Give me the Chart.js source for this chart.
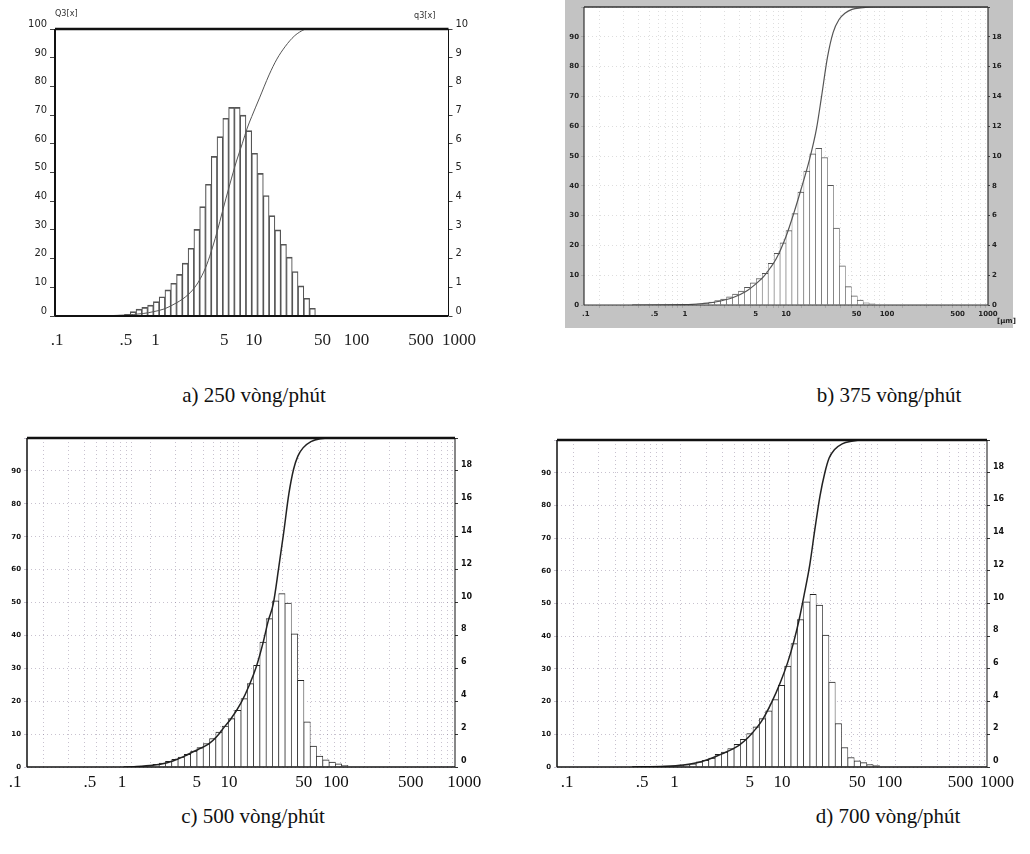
<!DOCTYPE html>
<html>
<head>
<meta charset="utf-8">
<script src="https://cdn.jsdelivr.net/npm/chart.js@4.4.1/dist/chart.umd.min.js"></script>
<style>
  html, body { margin: 0; padding: 0; background: #fff; }
  body { width: 1030px; height: 854px; position: relative; overflow: hidden; }
  canvas { position: absolute; }
  .cap { position: absolute; font-family: 'Liberation Serif', 'Times New Roman', serif; font-size: 21px; color: #111; white-space: nowrap; transform: translateX(-50%); line-height: 24px; }
  .sm { position: absolute; font-family: 'Liberation Sans Narrow', 'DejaVu Sans Condensed', sans-serif; font-size: 9px; color: #333; white-space: nowrap; }
  .um { position: absolute; font-family: 'DejaVu Sans', sans-serif; font-weight: bold; font-size: 7px; color: #222; white-space: nowrap; }
</style>
</head>
<body>
<canvas id="ca" width="480" height="345" style="left:0px;top:0px"></canvas>
<canvas id="cb" width="448" height="328" style="left:565px;top:0px"></canvas>
<canvas id="cc" width="500" height="364" style="left:0px;top:428px"></canvas>
<canvas id="cd" width="495" height="364" style="left:530px;top:428px"></canvas>

<div class="sm" style="left:55px;top:8px">Q3[x]</div>
<div class="sm" style="left:414px;top:10px">q3[x]</div>
<div class="um" style="left:997px;top:317px">[µm]</div>

<div class="cap" style="left:254px;top:383px">a) 250 vòng/phút</div>
<div class="cap" style="left:889px;top:383px">b) 375 vòng/phút</div>
<div class="cap" style="left:253px;top:804px">c) 500 vòng/phút</div>
<div class="cap" style="left:888px;top:804px">d) 700 vòng/phút</div>

<script>
// ---------- DATA ----------
// Particle-size classes (bin centres, µm), 17 classes per decade
const binCenters = [0.4748, 0.5437, 0.6226, 0.7129, 0.8163, 0.9346, 1.0701, 1.2253, 1.4030, 1.6065,
  1.8395, 2.1063, 2.4118, 2.7616, 3.1623, 3.6209, 4.1461, 4.7474, 5.4360, 6.2244,
  7.1272, 8.1609, 9.3446, 10.701, 12.253, 14.030, 16.065, 18.395, 21.063, 24.118,
  27.616, 31.623, 36.209, 41.461, 47.474, 54.360, 62.244, 71.272, 81.609, 93.446];

// Density distribution q3 (% per class) for each speed
const q3_250 = [0.03, 0.06, 0.15, 0.24, 0.30, 0.38, 0.50, 0.67, 0.91, 1.14,
  1.45, 1.84, 2.36, 3.02, 3.81, 4.59, 5.56, 6.25, 6.89, 7.27,
  7.27, 7.00, 6.46, 5.67, 4.97, 4.20, 3.50, 3.00, 2.50, 2.05,
  1.55, 1.05, 0.62, 0.27, 0, 0, 0, 0, 0, 0];
const q3_375 = [0, 0, 0, 0, 0, 0.02, 0.03, 0.05, 0.08, 0.13,
  0.20, 0.29, 0.40, 0.55, 0.74, 0.94, 1.18, 1.49, 1.78, 2.12,
  2.79, 3.46, 4.17, 5.00, 6.13, 7.58, 8.98, 10.15, 10.52, 9.90,
  8.03, 5.17, 2.63, 1.23, 0.62, 0.33, 0.15, 0.08, 0.03, 0];
const q3_500 = [0, 0, 0, 0, 0, 0.02, 0.04, 0.06, 0.10, 0.16,
  0.24, 0.35, 0.47, 0.61, 0.77, 0.97, 1.18, 1.42, 1.73, 2.13,
  2.49, 2.94, 3.45, 4.16, 5.07, 6.18, 7.60, 9.02, 10.10, 10.54,
  9.97, 8.10, 5.27, 2.74, 1.27, 0.66, 0.43, 0.30, 0.20, 0.10];
const q3_700 = [0, 0, 0, 0, 0, 0.02, 0.03, 0.05, 0.08, 0.13,
  0.20, 0.31, 0.41, 0.55, 0.78, 0.92, 1.13, 1.39, 1.70, 2.04,
  2.45, 2.96, 3.43, 4.13, 5.00, 6.17, 7.55, 9.02, 10.10, 10.56,
  9.90, 8.07, 5.20, 2.66, 1.19, 0.58, 0.37, 0.27, 0.15, 0.08];

// Cumulative distribution Q3 (%)
const Q3size_250 = [0.25, 0.5, 0.8, 1.0, 1.3, 1.7, 2.0, 2.5, 3.0, 3.5, 4.0, 4.5, 5.0, 6.0, 7.0, 8.0, 9.0, 10, 12, 15, 18, 22, 27, 32, 36, 1000];
const Q3_250     = [0, 0.3, 0.9, 1.5, 2.5, 4.5, 6, 9, 13, 18, 24, 30, 36, 46, 54, 60, 65.5, 69.5, 76, 84, 89.5, 94, 97.5, 99.3, 100, 100];
const Q3size_375 = [0.3, 1.0, 1.5, 2.0, 3.0, 4.0, 5.0, 6.0, 7.0, 8.0, 10, 12, 14, 17, 20, 22.5, 25.7, 29.3, 33.5, 38.3, 45, 55, 75, 1000];
const Q3_375     = [0, 0.1, 0.5, 1.0, 2.5, 4.5, 7, 9.5, 12.5, 15.5, 23, 31, 38.5, 48.5, 59, 70, 83, 91.5, 95.8, 97.9, 99.2, 99.7, 100, 100];
const Q3size_500 = [0.8, 1.0, 1.5, 2.0, 2.5, 3.0, 4.0, 5.0, 6.0, 7.0, 8.0, 10, 12, 14, 16, 18, 20, 22.5, 25, 28, 31, 34, 38, 45, 55, 70, 1000];
const Q3_500     = [0, 0.1, 0.5, 1.2, 2.3, 3.4, 5.4, 7.0, 9.4, 12.2, 14.5, 19.5, 25, 30.8, 37.5, 44.5, 49.5, 60.5, 71, 83, 90.5, 94.5, 97, 98.9, 99.8, 100, 100];
const Q3size_700 = [0.5, 1.0, 1.5, 2.0, 2.5, 3.0, 4.0, 5.0, 6.0, 7.0, 8.0, 10, 12, 14, 16, 18, 20, 22.5, 25, 28, 31, 34, 38, 45, 55, 70, 1000];
const Q3_700     = [0, 0.2, 0.6, 1.3, 2.2, 3.2, 5.0, 6.8, 9.0, 11.5, 14, 20, 26, 32, 38.5, 45.5, 53, 62, 72.5, 83, 90, 94.5, 97, 98.8, 99.6, 100, 100];

// Tick labels
const xTickValues = [0.1, 0.5, 1, 5, 10, 50, 100, 500, 1000];
const xTickLabels = ['.1', '.5', '1', '5', '10', '50', '100', '500', '1000'];

// ---------- HELPERS ----------
const gridValues = [];
[0.1, 1, 10, 100].forEach(d => { for (let m = 1; m <= 9; m++) gridValues.push(d * m); });
gridValues.push(1000);

function xLabel(v, nudge) {
  for (let i = 0; i < xTickValues.length; i++) {
    if (Math.abs(Math.log10(v) - Math.log10(xTickValues[i])) < 1e-6) {
      const lab = xTickLabels[i];
      const n = (nudge && nudge[lab]) || 0;
      return n > 0 ? '\u2002'.repeat(n) + lab : (n < 0 ? lab + '\u2002'.repeat(-n) : lab);
    }
  }
  return '';
}

const framePlugin = {
  id: 'frame',
  beforeDraw(chart, args, o) {
    const {ctx, chartArea: ca, width, height} = chart;
    ctx.save();
    ctx.fillStyle = o.outer;
    ctx.fillRect(0, 0, width, height);
    ctx.fillStyle = o.inner;
    ctx.fillRect(ca.left, ca.top, ca.right - ca.left, ca.bottom - ca.top);
    ctx.restore();
  },
  afterDatasetsDraw(chart, args, o) {
    const {ctx, chartArea: ca} = chart;
    ctx.save();
    ctx.strokeStyle = o.color;
    const seg = (w, x1, y1, x2, y2) => {
      if (!w) return;
      ctx.lineWidth = w; ctx.beginPath(); ctx.moveTo(x1, y1); ctx.lineTo(x2, y2); ctx.stroke();
    };
    seg(o.top, ca.left, ca.top, ca.right, ca.top);
    seg(o.bottom, ca.left, ca.bottom, ca.right, ca.bottom);
    seg(o.left, ca.left, ca.top, ca.left, ca.bottom);
    seg(o.right, ca.right, ca.top, ca.right, ca.bottom);
    ctx.restore();
  }
};

function makeChart(id, p) {
  const ctx = document.getElementById(id);
  return new Chart(ctx, {
    type: 'bar',
    data: {
      datasets: [
        {
          type: 'line',
          data: p.qx.map((x, i) => ({x: x, y: p.qy[i]})),
          yAxisID: 'yL', xAxisID: 'x',
          borderColor: p.lineColor, borderWidth: p.lineWidth,
          pointRadius: 0, fill: false, cubicInterpolationMode: 'monotone',
          order: 0
        },
        {
          type: 'bar',
          data: binCenters.map((x, i) => ({x: x, y: p.hist[i]})),
          yAxisID: 'yR', xAxisID: 'x',
          backgroundColor: p.barFill, borderColor: p.barColor,
          borderWidth: {top: 1, left: p.barSide, right: p.barSide, bottom: 0},
          borderSkipped: 'bottom',
          barThickness: 'flex', categoryPercentage: 1, barPercentage: 1,
          order: 1
        }
      ]
    },
    options: {
      responsive: false, animation: false, devicePixelRatio: 1,
      layout: {padding: {top: p.top, left: 0, right: 0, bottom: 0}},
      plugins: {
        legend: {display: false}, tooltip: {enabled: false},
        frame: p.frame
      },
      scales: {
        x: {
          type: 'logarithmic', min: 0.1, max: 1000, offset: false,
          afterBuildTicks: s => { s.ticks = gridValues.map(v => ({value: v})); },
          afterFit: s => { s.height = p.xH; },
          grid: p.xGrid,
          border: {display: false, dash: p.gridDash},
          ticks: {
            autoSkip: false, maxRotation: 0, minRotation: 0,
            padding: p.xPad, labelOffset: p.xOff,
            font: p.xFont, color: p.tickColor,
            callback: v => xLabel(v, p.nudge)
          }
        },
        yL: {
          type: 'linear', position: 'left', min: 0, max: 100,
          afterFit: s => { s.width = p.yLW; },
          grid: p.yLGrid,
          border: {display: false, dash: p.gridDash},
          ticks: {
            stepSize: 10, padding: p.yPad, labelOffset: p.yLOff,
            font: p.yFont, color: p.tickColor,
            callback: v => (p.hideTop && v === 100) ? '' : String(v)
          }
        },
        yR: {
          type: 'linear', position: 'right', min: 0, max: p.rMax,
          afterFit: s => { s.width = p.yRW; },
          grid: {display: true, drawOnChartArea: false, drawTicks: true, tickLength: p.rTick, color: p.tickMarkColor},
          border: {display: false},
          ticks: {
            stepSize: p.rStep, padding: p.yPad, labelOffset: p.yROff,
            font: p.yRFont || p.yFont, color: p.tickColor,
            callback: v => (p.hideTop && v === p.rMax) ? '' : String(v)
          }
        }
      }
    },
    plugins: [framePlugin]
  });
}

const serifX = {family: "'Liberation Serif', 'Times New Roman', serif", size: 17};
const tinyBold = {family: "'DejaVu Sans', sans-serif", size: 7, weight: 'bold'};
const dotted = 'rgba(125,110,140,0.42)';

// a) 250
makeChart('ca', {
  hist: q3_250, qx: Q3size_250, qy: Q3_250,
  lineColor: '#555', lineWidth: 1, barColor: '#555', barFill: 'rgba(255,255,255,0)', barSide: 0.5,
  top: 29, yLW: 55, yRW: 31, xH: 29, rMax: 10, rStep: 1, rTick: 4, hideTop: false,
  xGrid: {display: false}, gridDash: [],
  yLGrid: {display: true, drawOnChartArea: false, drawTicks: true, tickLength: 5, color: '#444'},
  tickMarkColor: '#444',
  xPad: 6, xOff: 2, nudge: {'100': 1, '1000': 2},
  yPad: 3, yLOff: -5, yROff: -5,
  xFont: serifX,
  yFont: {family: "'Liberation Sans Narrow', 'DejaVu Sans Condensed', sans-serif", size: 11},
  tickColor: '#222',
  frame: {outer: '#fff', inner: '#fff', color: '#111', top: 2.5, bottom: 2, left: 2, right: 1}
});

// b) 375
makeChart('cb', {
  hist: q3_375, qx: Q3size_375, qy: Q3_375,
  lineColor: '#555', lineWidth: 1.2, barColor: '#555', barFill: '#fff', barSide: 0.6,
  top: 7, yLW: 19, yRW: 25, xH: 23, rMax: 20, rStep: 2, rTick: 2, hideTop: true,
  xGrid: {display: true, drawTicks: true, tickLength: 3, color: 'rgba(0,0,0,0.13)'}, gridDash: [1, 3],
  yLGrid: {display: true, drawTicks: true, tickLength: 3, color: 'rgba(0,0,0,0.13)'},
  tickMarkColor: '#444',
  xPad: 2, xOff: 0, nudge: {'.1': 1},
  yPad: 2, yLOff: 0, yROff: 0,
  xFont: tinyBold, yFont: tinyBold, tickColor: '#222',
  frame: {outer: '#c3c3c3', inner: '#fff', color: '#333', top: 1.5, bottom: 1.2, left: 1.2, right: 1.2}
});

// c) 500
makeChart('cc', {
  hist: q3_500, qx: Q3size_500, qy: Q3_500,
  lineColor: '#222', lineWidth: 1.5, barColor: '#222', barFill: '#fff', barSide: 0.7,
  top: 10, yLW: 27, yRW: 45, xH: 25, rMax: 20, rStep: 2, rTick: 3, hideTop: true,
  xGrid: {display: true, drawTicks: false, color: dotted}, gridDash: [1, 3],
  yLGrid: {display: true, drawTicks: true, tickLength: 3, color: dotted},
  tickMarkColor: '#333',
  xPad: 5, xOff: -12, nudge: {'1000': 5},
  yPad: 3, yLOff: 0, yROff: -6,
  xFont: serifX, yFont: tinyBold, yRFont: {family: "'DejaVu Sans', sans-serif", size: 8, weight: 'bold'},
  tickColor: '#111',
  frame: {outer: '#fff', inner: '#fff', color: '#111', top: 2.5, bottom: 1.5, left: 1.5, right: 1}
});

// d) 700
makeChart('cd', {
  hist: q3_700, qx: Q3size_700, qy: Q3_700,
  lineColor: '#222', lineWidth: 1.5, barColor: '#222', barFill: '#fff', barSide: 0.7,
  top: 12, yLW: 27, yRW: 38, xH: 25, rMax: 20, rStep: 2, rTick: 3, hideTop: true,
  xGrid: {display: true, drawTicks: false, color: dotted}, gridDash: [1, 3],
  yLGrid: {display: true, drawTicks: true, tickLength: 3, color: dotted},
  tickMarkColor: '#333',
  xPad: 5, xOff: 10, nudge: {'500': -1},
  yPad: 3, yLOff: 0, yROff: -6,
  xFont: serifX, yFont: tinyBold, yRFont: {family: "'DejaVu Sans', sans-serif", size: 8, weight: 'bold'},
  tickColor: '#111',
  frame: {outer: '#fff', inner: '#fff', color: '#111', top: 2.5, bottom: 1.5, left: 1.5, right: 1}
});
</script>
</body>
</html>
